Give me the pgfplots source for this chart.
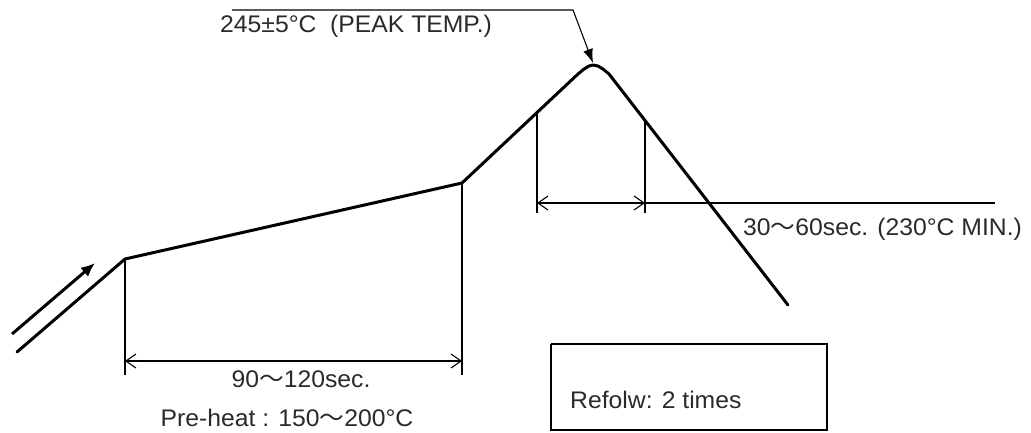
\documentclass[border=0pt]{standalone}
\usepackage{pgfplots}
\pgfplotsset{compat=1.18}
\usepackage{fontspec}
\setmainfont{Liberation Sans}
\newfontfamily\cjk{Noto Sans CJK SC}
\usetikzlibrary{arrows.meta}
\definecolor{txt}{HTML}{2A2A2A}
\newcommand\tf{\fontsize{24}{28}\selectfont}
\newcommand\wx[1]{\scalebox{1.03}[1]{#1}}
\begin{document}
\begin{tikzpicture}
\begin{axis}[hide axis, scale only axis, width=1031pt, height=432pt,
  xmin=0, xmax=1031, ymin=0, ymax=432, y dir=reverse, clip=false]
\path (axis cs:0,0) rectangle (axis cs:1031,432);
% reflow profile
\addplot[black, line width=3pt, line join=round, line cap=round] coordinates {
 (17,352) (125,259) (462,183) (578,74) (584,69) (589,66) (593,65) (598,66) (603,69) (609,74) (788,305)};
% entry arrow
\addplot[black, line width=3pt, -{Latex[length=14pt,width=12pt]}] coordinates {(12,334) (95,263)};
% preheat dimension
\addplot[black, line width=1.1pt] coordinates {(125,259) (125,375)};
\addplot[black, line width=1.1pt] coordinates {(462,183) (462,375)};
\addplot[black, line width=1.1pt, {Straight Barb[length=10pt,width=14pt]}-{Straight Barb[length=10pt,width=14pt]}] coordinates {(125,361) (462,361)};
% 230C dimension
\addplot[black, line width=1.1pt] coordinates {(537,112) (537,213)};
\addplot[black, line width=1.1pt] coordinates {(645,119) (645,213)};
\addplot[black, line width=1.1pt, {Straight Barb[length=10pt,width=14pt]}-{Straight Barb[length=10pt,width=14pt]}] coordinates {(537,203) (645,203)};
\addplot[black, line width=1.1pt] coordinates {(645,203) (995,203)};
% peak leader
\addplot[black, line width=1.1pt, -{Latex[length=14pt,width=10pt]}] coordinates {(232,10) (573,10) (593,63)};
% box
\addplot[black, line width=1.1pt] coordinates {(551,344) (827,344) (827,430) (551,430) (551,344)};
% texts
\node[anchor=base west, font=\tf, text=txt, inner sep=0pt] at (axis cs:220,32) {\wx{245±5°C\ \ (PEAK TEMP.)}};
\node[anchor=base, font=\tf, text=txt, inner sep=0pt] at (axis cs:301,387) {\wx{90{\cjk ～}120sec.}};
\node[anchor=base, font=\tf, text=txt, inner sep=0pt] at (axis cs:287,426) {\wx{Pre-heat : 150{\cjk ～}200°C}};
\node[anchor=base west, font=\tf, text=txt, inner sep=0pt] at (axis cs:743,235) {\wx{30{\cjk ～}60sec. (230°C MIN.)}};
\node[anchor=base west, font=\tf, text=txt, inner sep=0pt] at (axis cs:570,408) {\wx{Refolw: 2 times}};
\end{axis}
\end{tikzpicture}
\end{document}
